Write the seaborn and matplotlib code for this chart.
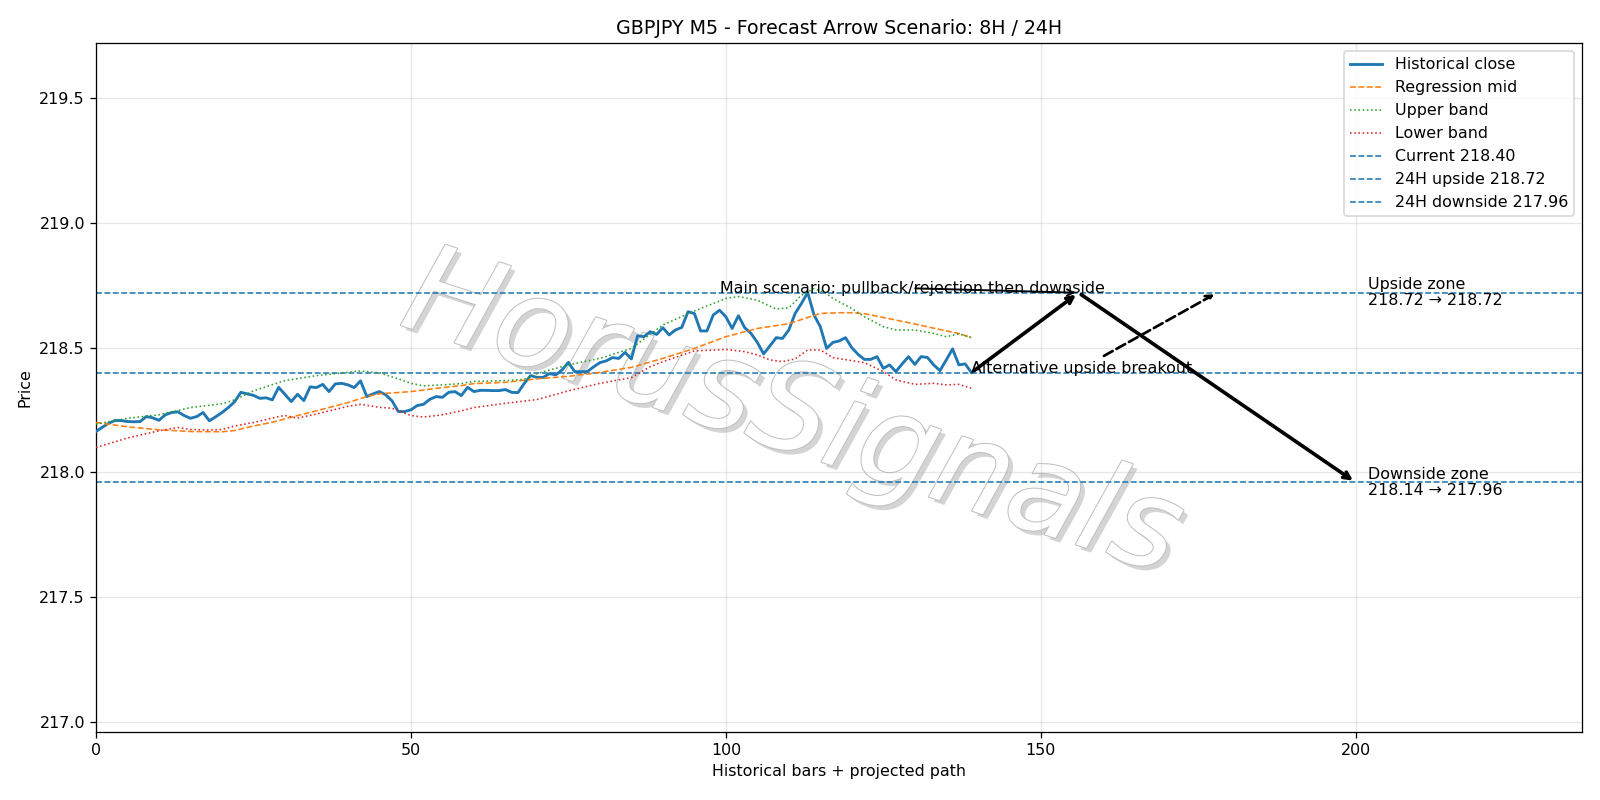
import matplotlib
matplotlib.use("Agg")
import matplotlib.pyplot as plt
import matplotlib.patheffects as pe
import numpy as np
import pandas as pd
import seaborn as sns

# ---------------- data ----------------
close = [
    218.164, 218.181, 218.197, 218.208, 218.208, 218.204, 218.203, 218.204, 218.224, 218.219,
    218.209, 218.231, 218.240, 218.243, 218.228, 218.217, 218.224, 218.240, 218.207, 218.223,
    218.240, 218.260, 218.283, 218.321, 218.315, 218.309, 218.297, 218.299, 218.291, 218.341,
    218.313, 218.284, 218.313, 218.288, 218.343, 218.340, 218.353, 218.324, 218.355, 218.357,
    218.351, 218.340, 218.367, 218.304, 218.315, 218.324, 218.311, 218.287, 218.244, 218.244,
    218.251, 218.268, 218.273, 218.293, 218.304, 218.301, 218.321, 218.324, 218.308, 218.341,
    218.324, 218.329, 218.329, 218.328, 218.328, 218.332, 218.321, 218.320, 218.357, 218.388,
    218.381, 218.381, 218.396, 218.391, 218.411, 218.441, 218.404, 218.404, 218.404, 218.423,
    218.440, 218.447, 218.460, 218.457, 218.481, 218.455, 218.548, 218.544, 218.564, 218.553,
    218.580, 218.551, 218.571, 218.581, 218.644, 218.637, 218.567, 218.567, 218.631, 218.650,
    218.624, 218.577, 218.628, 218.580, 218.557, 218.521, 218.475, 218.507, 218.540, 218.537,
    218.571, 218.637, 218.677, 218.721, 218.631, 218.584, 218.497, 218.521, 218.527, 218.540,
    218.500, 218.473, 218.453, 218.453, 218.464, 218.417, 218.431, 218.404, 218.435, 218.464,
    218.433, 218.464, 218.461, 218.431, 218.408, 218.451, 218.495, 218.431, 218.435, 218.400,
]

mid_x = [0, 5, 10, 15, 20, 22, 25, 27, 29, 30, 35, 40, 43, 45, 50, 55, 58, 60, 65, 70, 75, 80,
         85, 90, 95, 100, 105, 110, 113, 115, 118, 120, 122, 125, 130, 135, 137, 139]
mid_y = [218.200, 218.183, 218.171, 218.164, 218.163, 218.168, 218.186, 218.196, 218.207,
         218.215, 218.247, 218.280, 218.304, 218.315, 218.324, 218.340, 218.348, 218.356,
         218.361, 218.375, 218.385, 218.401, 218.421, 218.457, 218.497, 218.544, 218.577,
         218.596, 218.621, 218.637, 218.640, 218.640, 218.636, 218.621, 218.595, 218.567,
         218.557, 218.540]

upper_x = [0, 5, 10, 15, 20, 22, 25, 29, 30, 35, 40, 42, 45, 48, 50, 52, 55, 58, 60, 65, 68, 70,
           75, 80, 85, 90, 95, 100, 102, 105, 108, 110, 112, 114, 116, 117, 120, 122, 125, 127,
           130, 133, 135, 137, 139]
upper_y = [218.194, 218.217, 218.231, 218.260, 218.275, 218.291, 218.327, 218.360, 218.368,
           218.388, 218.401, 218.407, 218.399, 218.375, 218.357, 218.347, 218.351, 218.356,
           218.365, 218.368, 218.373, 218.396, 218.431, 218.457, 218.497, 218.591, 218.647,
           218.697, 218.705, 218.690, 218.655, 218.660, 218.710, 218.737, 218.717, 218.697,
           218.657, 218.624, 218.584, 218.571, 218.571, 218.557, 218.544, 218.555, 218.541]

lower_x = [0, 5, 10, 13, 15, 18, 20, 22, 25, 29, 30, 32, 35, 40, 42, 45, 47, 50, 52, 55, 58, 60,
           65, 70, 75, 80, 85, 88, 90, 95, 100, 103, 105, 107, 109, 111, 113, 115, 117, 120, 122,
           125, 127, 130, 133, 135, 137, 139]
lower_y = [218.100, 218.138, 218.167, 218.180, 218.172, 218.170, 218.172, 218.186, 218.200,
           218.224, 218.228, 218.218, 218.234, 218.265, 218.273, 218.261, 218.257, 218.228,
           218.222, 218.231, 218.247, 218.260, 218.277, 218.292, 218.327, 218.357, 218.380,
           218.424, 218.444, 218.487, 218.493, 218.484, 218.471, 218.451, 218.444, 218.455,
           218.491, 218.491, 218.460, 218.448, 218.440, 218.404, 218.371, 218.353, 218.357,
           218.351, 218.353, 218.337]

current_price = 218.40
upside_24h = 218.72
downside_24h = 217.96
downside_8h = 218.14

# projected path (bar index, price)
path_now = (139, current_price)
path_mid = (156, upside_24h)
path_end = (200, downside_24h)
alt_target = (178, upside_24h)

title = "GBPJPY M5 - Forecast Arrow Scenario: 8H / 24H"
watermark = "HorusSignals"

# ---------------- figure ----------------
fig, ax = plt.subplots(figsize=(14, 7), dpi=114.2858)
fig.subplots_adjust(left=0.060, right=0.989, top=0.946, bottom=0.085)

hist = pd.DataFrame({"bar": np.arange(len(close)), "price": close})
sns.lineplot(data=hist, x="bar", y="price", ax=ax, color="#1f77b4", lw=1.8,
             label="Historical close", zorder=3)
sns.lineplot(x=mid_x, y=mid_y, ax=ax, color="#ff7f0e", lw=1.0, linestyle="--",
             label="Regression mid", zorder=3)
sns.lineplot(x=upper_x, y=upper_y, ax=ax, color="#2ca02c", lw=1.0, linestyle=":",
             label="Upper band", zorder=3)
sns.lineplot(x=lower_x, y=lower_y, ax=ax, color="#d62728", lw=1.0, linestyle=":",
             label="Lower band", zorder=3)

ax.axhline(current_price, color="#1f77b4", ls="--", lw=1.0, label=f"Current {current_price:.2f}")
ax.axhline(upside_24h, color="#1f77b4", ls="--", lw=1.0, label=f"24H upside {upside_24h:.2f}")
ax.axhline(downside_24h, color="#1f77b4", ls="--", lw=1.0, label=f"24H downside {downside_24h:.2f}")

# main scenario arrows
ax.annotate("", xy=path_mid, xytext=path_now,
            arrowprops=dict(arrowstyle="->", lw=2.3, color="black"), zorder=4)
ax.annotate("", xy=path_end, xytext=path_mid,
            arrowprops=dict(arrowstyle="->", lw=2.3, color="black"), zorder=4)
ax.annotate("Main scenario: pullback/rejection then downside", xy=path_mid,
            xytext=(path_now[0] - 40, upside_24h), fontsize=10,
            arrowprops=dict(arrowstyle="->", lw=1.2, color="black", patchA=None), zorder=4)
ax.annotate("Alternative upside breakout", xy=alt_target, xytext=path_now, fontsize=10,
            arrowprops=dict(arrowstyle="->", lw=1.7, ls="--", color="black"), zorder=4)

ax.text(202, upside_24h, f"Upside zone\n{upside_24h:.2f} \u2192 {upside_24h:.2f}",
        fontsize=10, ha="left", va="center", linespacing=1.1)
ax.text(202, downside_24h, f"Downside zone\n{downside_8h:.2f} \u2192 {downside_24h:.2f}",
        fontsize=10, ha="left", va="center", linespacing=1.1)

# watermark
ax.text(0.495, 0.48, watermark, transform=fig.transFigure, fontsize=78,
        rotation=-18, ha="center", va="center", color="white", zorder=1,
        fontstyle="italic",
        path_effects=[pe.withSimplePatchShadow(offset=(3, -3), shadow_rgbFace="#a0a0a0", alpha=0.45),
                      pe.Stroke(linewidth=1.3, foreground="#c0c0c0"), pe.Normal()])

ax.set_xlim(0, 236)
ax.set_ylim(downside_24h - 1.0, upside_24h + 1.0)
ax.set_xticks([0, 50, 100, 150, 200])
ax.set_yticks([217.0, 217.5, 218.0, 218.5, 219.0, 219.5])
ax.grid(True, alpha=0.3)
ax.set_title(title, fontsize=12)
ax.set_xlabel("Historical bars + projected path")
ax.set_ylabel("Price")
ax.legend(loc="upper right", fontsize=10)

fig.savefig("out.png", dpi=114.2858)
